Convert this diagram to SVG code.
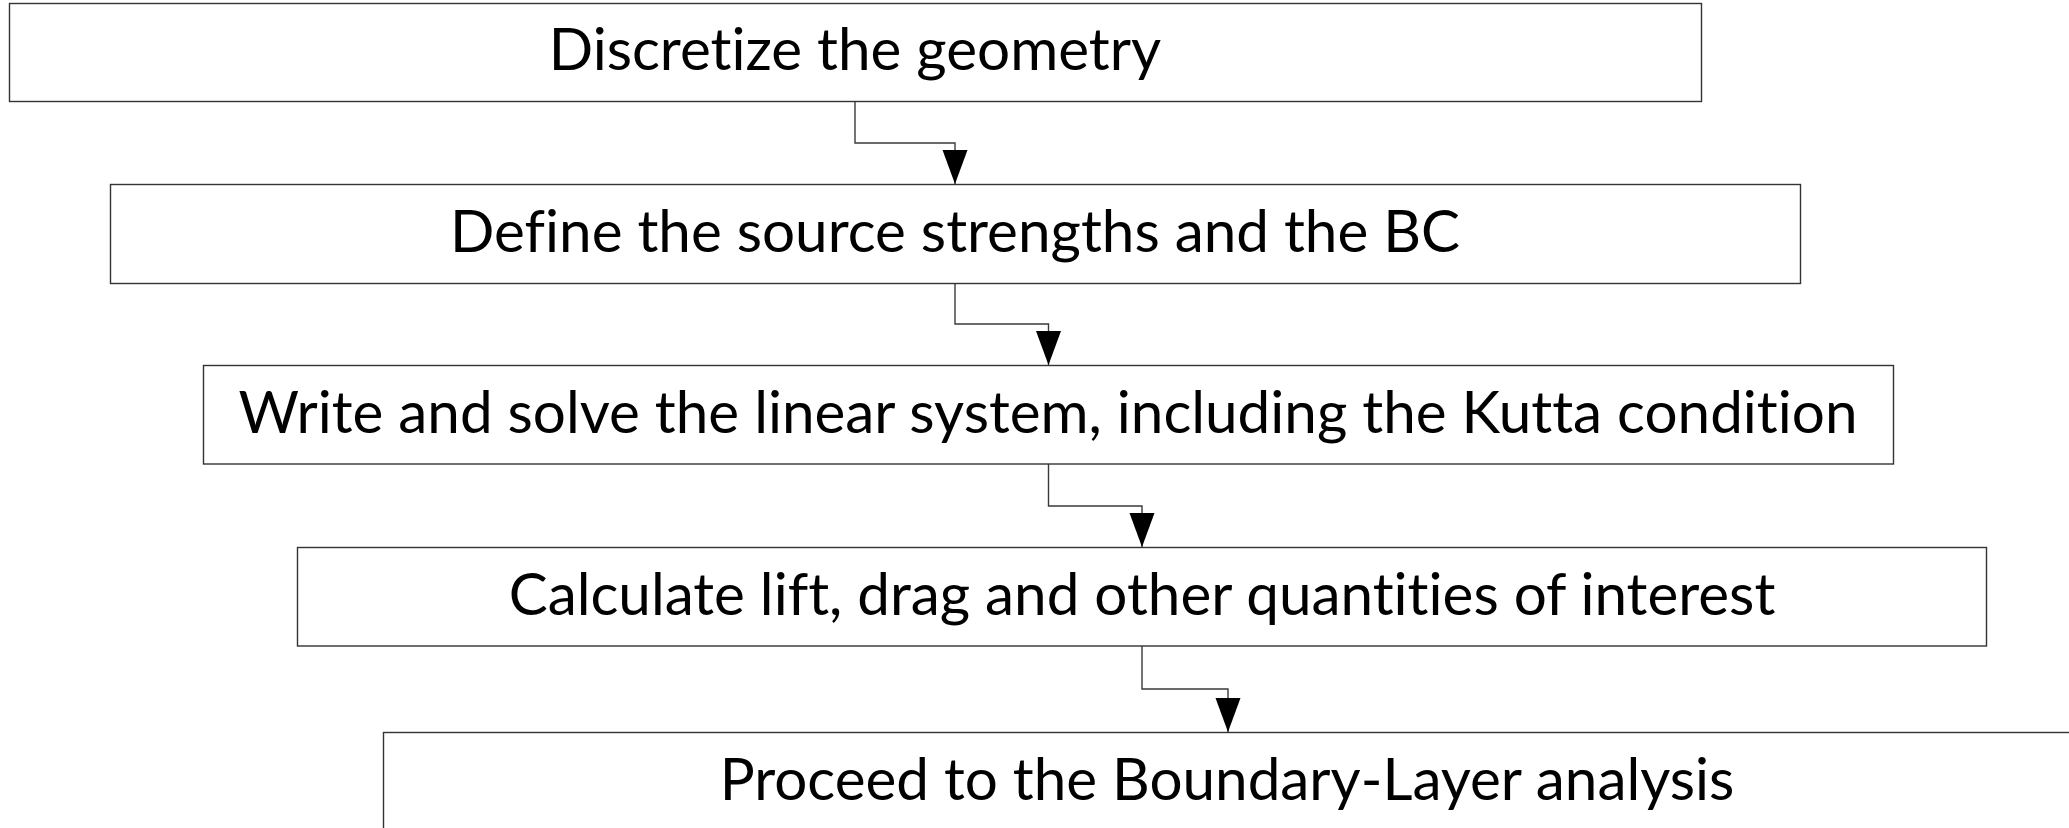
<svg xmlns="http://www.w3.org/2000/svg" width="2069" height="828" viewBox="0 0 2069 828">
<style>
.box{fill:#ffffff;stroke:#333333;stroke-width:1.4}
.lbl{font-family:Lato,"Open Sans","Noto Sans",sans-serif;font-size:58.4px;font-variant-ligatures:none;fill:#000000;text-anchor:middle}
.conn{fill:none;stroke:#3a3a3a;stroke-width:1.4}
</style>
<defs>
<marker id="arr" markerUnits="userSpaceOnUse" markerWidth="35" markerHeight="26" refX="34" refY="12.5" orient="auto" viewBox="0 0 35 26">
<path d="M0,0 L34,12.5 L0,25 Z" fill="#000000"/>
</marker>
</defs>
<rect width="2069" height="828" fill="#ffffff"/>
<g id="connectors">
<path class="conn" d="M855,102 V143 H955 V184" marker-end="url(#arr)"/>
<path class="conn" d="M955,284 V324 H1048.5 V365" marker-end="url(#arr)"/>
<path class="conn" d="M1048.5,464 V506 H1142 V547" marker-end="url(#arr)"/>
<path class="conn" d="M1142,646 V689 H1228 V732" marker-end="url(#arr)"/>
</g>
<g id="node1">
<rect class="box" x="9.5" y="3.5" width="1692" height="98"/>
<text class="lbl" x="855" y="70">Discretize the geometry</text>
</g>
<g id="node2">
<rect class="box" x="110.5" y="184.5" width="1690" height="99"/>
<text class="lbl" x="955" y="252">Define the source strengths and the BC</text>
</g>
<g id="node3">
<rect class="box" x="203.5" y="365.5" width="1690" height="98.5"/>
<text class="lbl" x="1048" y="433">Write and solve the linear system, including the Kutta condition</text>
</g>
<g id="node4">
<rect class="box" x="297.5" y="547.5" width="1689" height="98.5"/>
<text class="lbl" x="1142" y="615">Calculate lift, drag and other quantities of interest</text>
</g>
<g id="node5">
<rect class="box" x="383.5" y="732.5" width="1690" height="99"/>
<text class="lbl" x="1227" y="800">Proceed to the Boundary-Layer analysis</text>
</g>
</svg>
